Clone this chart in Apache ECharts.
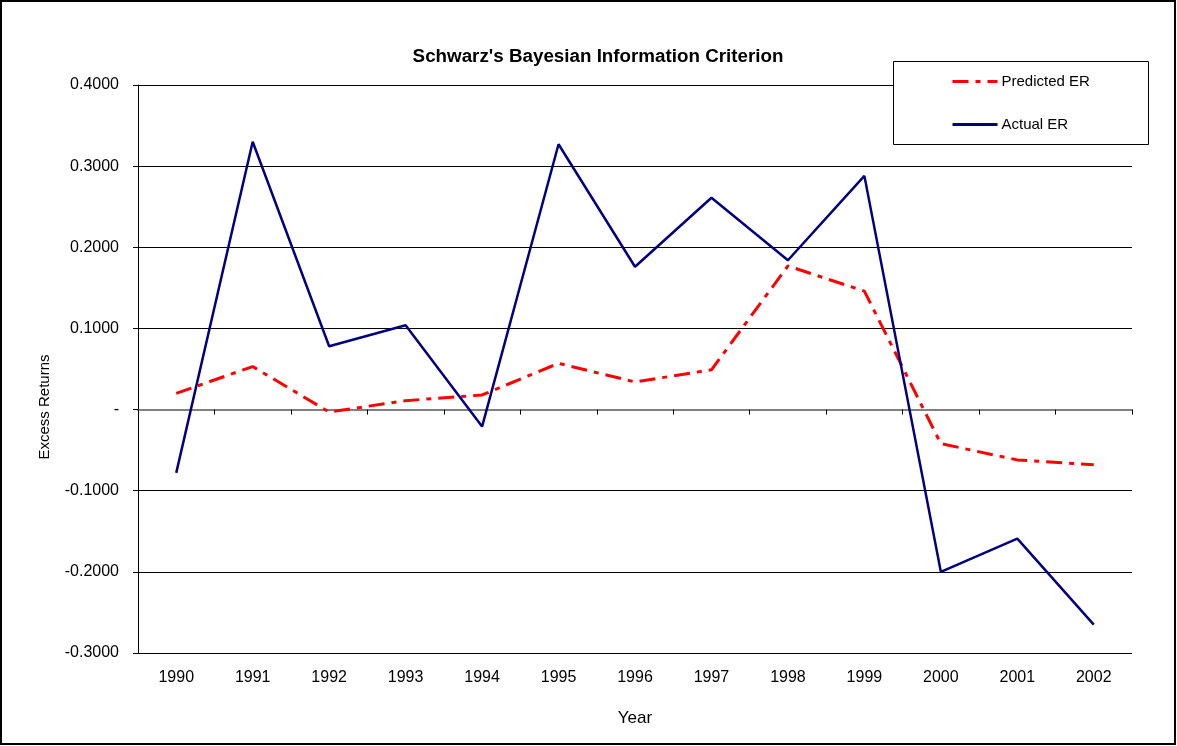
<!DOCTYPE html>
<html>
<head>
<meta charset="utf-8">
<script src="https://cdn.jsdelivr.net/npm/echarts@6/dist/echarts.min.js"></script>
<style>
  html, body { margin: 0; padding: 0; background: #fff; }
  #chart { width: 1177px; height: 746px; }
</style>
</head>
<body>
<div id="chart"></div>
<script>
// values
const years = ['1990', '1991', '1992', '1993', '1994', '1995', '1996', '1997', '1998', '1999', '2000', '2001', '2002'];
const predictedER = [0.020, 0.053, -0.003, 0.011, 0.018, 0.057, 0.034, 0.049, 0.177, 0.146, -0.042, -0.062, -0.068];
const actualER = [-0.078, 0.330, 0.078, 0.104, -0.021, 0.327, 0.176, 0.261, 0.184, 0.288, -0.200, -0.159, -0.265];

const font = '"Liberation Sans", Arial, sans-serif';

var chart = echarts.init(document.getElementById('chart'));

let option = {
  animation: false,
  backgroundColor: '#fff',
  textStyle: { fontFamily: font, color: '#000' },
  title: {
    text: "Schwarz's Bayesian Information Criterion",
    left: 593,
    textAlign: 'center',
    top: 42,
    textStyle: { fontFamily: font, fontSize: 18.8, fontWeight: 'bold', color: '#000' }
  },
  legend: {
    orient: 'vertical',
    left: 951,
    top: 74,
    itemWidth: 45,
    itemHeight: 14,
    itemGap: 28,
    padding: 0,
    z: 20,
    itemStyle: { opacity: 0, borderWidth: 0 },
    lineStyle: { width: 3 },
    textStyle: { fontFamily: font, fontSize: 15, color: '#000', padding: [0, 0, 0, -1] },
    data: ['Predicted ER', 'Actual ER']
  },
  grid: {
    left: 138,
    right: 45,
    top: 85,
    bottom: 93
  },
  xAxis: [
    {
      type: 'category',
      data: years,
      position: 'bottom',
      axisLine: { show: false, onZero: false },
      axisTick: { show: false },
      axisLabel: { fontSize: 16, color: '#000', margin: 17, fontFamily: font },
      name: 'Year',
      nameLocation: 'middle',
      nameGap: 57,
      nameTextStyle: { fontSize: 17, color: '#000', fontFamily: font },
      splitLine: { show: false }
    },
    {
      type: 'category',
      data: years,
      position: 'top',
      axisLine: { show: true, onZero: true, lineStyle: { color: '#808080', width: 2 } },
      axisTick: { show: true, inside: true, length: 5, lineStyle: { color: '#000', width: 1 } },
      axisLabel: { show: false },
      splitLine: { show: false }
    }
  ],
  yAxis: {
    type: 'value',
    min: -0.3,
    max: 0.4,
    interval: 0.1,
    axisLine: { show: true, lineStyle: { color: '#000', width: 1 } },
    axisTick: { show: true, length: 5, lineStyle: { color: '#000' } },
    axisLabel: {
      fontSize: 16,
      color: '#000',
      margin: 19,
      fontFamily: font,
      formatter: function (v) {
        if (Math.abs(v) < 1e-9) return '-';
        return v.toFixed(4);
      }
    },
    splitLine: { show: true, lineStyle: { color: '#000', width: 1 } }
  },
  graphic: [
    {
      type: 'rect',
      shape: { x: 1, y: 1, width: 1174, height: 743 },
      style: { fill: null, stroke: '#000', lineWidth: 2 },
      z: 0
    },
    {
      type: 'rect',
      shape: { x: 893.5, y: 61.5, width: 255, height: 83 },
      style: { fill: '#fff', stroke: '#000', lineWidth: 1 },
      z: 10
    },
    {
      type: 'text',
      x: 45,
      y: 407,
      rotation: Math.PI / 2,
      style: {
        text: 'Excess Returns',
        fontSize: 15,
        fontFamily: font,
        fill: '#000',
        align: 'center',
        verticalAlign: 'middle'
      }
    }
  ],
  series: [
    {
      name: 'Predicted ER',
      type: 'line',
      data: predictedER,
      symbol: 'none',
      lineStyle: { color: '#ff0000', width: 3, type: [16, 7, 5, 7] },
      itemStyle: { color: '#ff0000' }
    },
    {
      name: 'Actual ER',
      type: 'line',
      data: actualER,
      symbol: 'none',
      lineStyle: { color: '#000080', width: 2.5 },
      itemStyle: { color: '#000080' }
    }
  ]
};

option && chart.setOption(option);
</script>
</body>
</html>
